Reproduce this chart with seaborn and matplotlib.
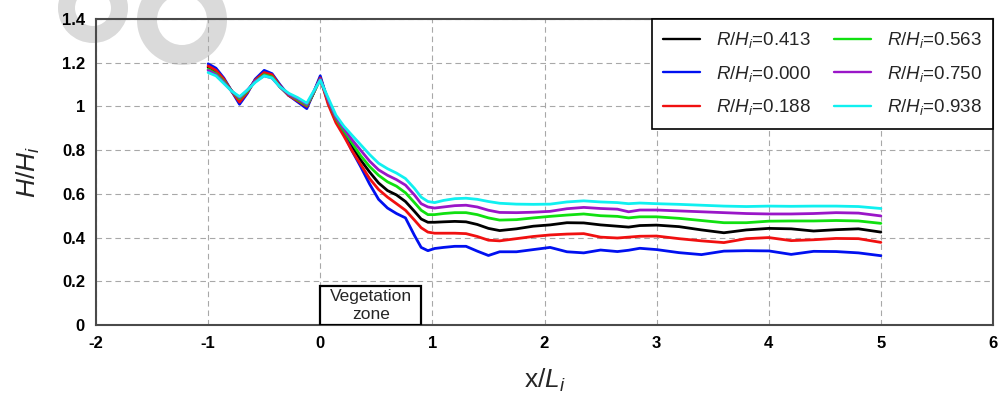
import numpy as np
import pandas as pd
import matplotlib
matplotlib.use("Agg")
import matplotlib.pyplot as plt
from matplotlib.patches import Rectangle, Wedge
import seaborn as sns

# Shared streamwise positions x/L_i
x_pos = [-1.0, -0.93, -0.86, -0.79, -0.72, -0.65, -0.58, -0.5, -0.43, -0.36, -0.28, -0.2, -0.12, -0.07, 0.0,
         0.07, 0.14, 0.21, 0.28, 0.36, 0.44, 0.52, 0.6, 0.68, 0.76, 0.84, 0.9, 0.96, 1.02,
         1.1, 1.2, 1.3, 1.4, 1.5, 1.6, 1.75, 1.9, 2.05, 2.2, 2.35, 2.5, 2.65, 2.75, 2.85, 3.0,
         3.2, 3.4, 3.6, 3.8, 4.0, 4.2, 4.4, 4.6, 4.8, 5.0]

# Relative wave height H/H_i for each R/H_i
h_0413 = [1.18, 1.16, 1.12, 1.07, 1.03, 1.07, 1.12, 1.15, 1.14, 1.09, 1.05, 1.03, 1.00, 1.05, 1.13,
          1.02, 0.935, 0.88, 0.82, 0.755, 0.70, 0.65, 0.615, 0.595, 0.565, 0.52, 0.485, 0.47, 0.47,
          0.472, 0.474, 0.472, 0.46, 0.442, 0.432, 0.44, 0.452, 0.458, 0.468, 0.467, 0.458, 0.452, 0.448, 0.455, 0.457,
          0.45, 0.435, 0.422, 0.435, 0.442, 0.44, 0.43, 0.436, 0.44, 0.425]
h_0000 = [1.195, 1.175, 1.13, 1.07, 1.01, 1.06, 1.125, 1.165, 1.15, 1.10, 1.05, 1.02, 0.99, 1.05, 1.14,
          1.02, 0.935, 0.875, 0.80, 0.725, 0.645, 0.575, 0.535, 0.51, 0.49, 0.41, 0.355, 0.34, 0.35,
          0.355, 0.36, 0.36, 0.338, 0.318, 0.335, 0.335, 0.345, 0.355, 0.335, 0.33, 0.343, 0.336, 0.342, 0.351, 0.345,
          0.331, 0.322, 0.338, 0.34, 0.339, 0.323, 0.337, 0.336, 0.33, 0.317]
h_0188 = [1.185, 1.165, 1.125, 1.07, 1.02, 1.065, 1.12, 1.155, 1.145, 1.095, 1.05, 1.025, 1.00, 1.05, 1.13,
          1.01, 0.925, 0.865, 0.80, 0.735, 0.67, 0.62, 0.585, 0.555, 0.525, 0.48, 0.445, 0.425, 0.42,
          0.42, 0.42, 0.418, 0.405, 0.388, 0.385, 0.395, 0.405, 0.412, 0.416, 0.418, 0.402, 0.398, 0.402, 0.406, 0.407,
          0.395, 0.385, 0.377, 0.395, 0.40, 0.386, 0.39, 0.396, 0.395, 0.378]
h_0563 = [1.17, 1.15, 1.115, 1.07, 1.035, 1.07, 1.115, 1.145, 1.135, 1.09, 1.055, 1.03, 1.005, 1.05, 1.125,
          1.03, 0.945, 0.89, 0.835, 0.775, 0.725, 0.685, 0.655, 0.635, 0.605, 0.56, 0.525, 0.505, 0.505,
          0.51, 0.514, 0.514, 0.505, 0.49, 0.48, 0.482, 0.49, 0.497, 0.503, 0.508, 0.50, 0.497, 0.49, 0.495, 0.495,
          0.488, 0.478, 0.468, 0.468, 0.475, 0.476, 0.476, 0.478, 0.476, 0.465]
h_0750 = [1.165, 1.145, 1.11, 1.07, 1.04, 1.075, 1.115, 1.14, 1.13, 1.09, 1.055, 1.035, 1.01, 1.055, 1.125,
          1.03, 0.95, 0.90, 0.85, 0.80, 0.75, 0.71, 0.685, 0.665, 0.64, 0.595, 0.555, 0.54, 0.535,
          0.54, 0.546, 0.548, 0.54, 0.525, 0.515, 0.514, 0.516, 0.52, 0.532, 0.538, 0.533, 0.53, 0.518, 0.526, 0.526,
          0.522, 0.518, 0.514, 0.51, 0.508, 0.508, 0.51, 0.514, 0.512, 0.499]
h_0938 = [1.155, 1.14, 1.105, 1.07, 1.045, 1.075, 1.11, 1.14, 1.13, 1.09, 1.06, 1.04, 1.015, 1.06, 1.12,
          1.04, 0.96, 0.91, 0.87, 0.825, 0.78, 0.74, 0.715, 0.695, 0.67, 0.625, 0.585, 0.565, 0.56,
          0.57, 0.578, 0.58, 0.575, 0.565, 0.557, 0.553, 0.552, 0.553, 0.563, 0.568, 0.563, 0.56, 0.555, 0.558, 0.555,
          0.552, 0.548, 0.544, 0.542, 0.544, 0.543, 0.544, 0.544, 0.542, 0.533]

ratios = ["0.413", "0.000", "0.188", "0.563", "0.750", "0.938"]
series = [h_0413, h_0000, h_0188, h_0563, h_0750, h_0938]
colors = ["#000000", "#0010f0", "#f01010", "#10e010", "#9a16c8", "#10f0f0"]

x_ticks = [-2, -1, 0, 1, 2, 3, 4, 5, 6]
y_ticks = [0, 0.2, 0.4, 0.6, 0.8, 1, 1.2, 1.4]
y_tick_labels = ["0", "0.2", "0.4", "0.6", "0.8", "1", "1.2", "1.4"]

labels = [f"$R/H_i$=" + r for r in ratios]
df = pd.concat(
    [pd.DataFrame({"x": x_pos, "H": h, "case": lab}) for h, lab in zip(series, labels)],
    ignore_index=True,
)

sns.set_theme(style="white")
plt.rcParams["font.family"] = ["Liberation Sans", "DejaVu Sans"]
plt.rcParams["mathtext.fontset"] = "custom"
plt.rcParams["mathtext.rm"] = "Liberation Sans"
plt.rcParams["mathtext.it"] = "Liberation Sans:italic"
plt.rcParams["mathtext.bf"] = "Liberation Sans:bold"

fig = plt.figure(figsize=(10.01, 4.0), dpi=100)
fig.patch.set_facecolor("white")
ax = fig.add_axes([96 / 1001, 75 / 400, 897 / 1001, 306 / 400])
ax.set_facecolor("none")

# light grey ring logo in the upper-left corner
for cx, cy, r, w in [(0.93, 3.92, 0.35, 0.17), (1.82, 3.80, 0.45, 0.20)]:
    fig.add_artist(Wedge((cx, cy), r, 0, 360, width=w, transform=fig.dpi_scale_trans,
                         facecolor="#dadada", edgecolor="none", zorder=-5))

sns.lineplot(data=df, x="x", y="H", hue="case", hue_order=labels,
             palette=dict(zip(labels, colors)), estimator=None, sort=False,
             linewidth=2.0, ax=ax, zorder=3)

ax.set_xlim(-2, 6)
ax.set_ylim(0, 1.4)
ax.set_xticks(x_ticks)
ax.set_xticklabels([str(t) for t in x_ticks], fontweight="bold", fontsize=12)
ax.set_yticks(y_ticks)
ax.set_yticklabels(y_tick_labels, fontweight="bold", fontsize=12)
ax.tick_params(axis="both", length=0, pad=8, colors="black")

ax.grid(True, color="#a8a8a8", linestyle=(0, (5, 3.5)), linewidth=0.8)
ax.set_axisbelow(True)
for s in ax.spines.values():
    s.set_visible(True)
    s.set_color("#4a4a4a")
    s.set_linewidth(1.5)

ax.set_xlabel("x/$L_i$", fontsize=19, labelpad=11)
ax.set_ylabel("$H/H_i$", fontsize=19, labelpad=14)

# vegetation zone marker
ax.add_patch(Rectangle((0.0, 0.0), 0.9, 0.178, facecolor="white", edgecolor="black",
                       linewidth=1.6, zorder=4))
ax.text(0.45, 0.089, "Vegetation\nzone", ha="center", va="center", fontsize=12.5,
        linespacing=1.2, zorder=5)

leg = ax.legend(ncol=2, loc="upper right", bbox_to_anchor=(1.0, 1.0), borderaxespad=0,
                prop={"size": 13.5}, frameon=True, fancybox=False, handlelength=1.97,
                columnspacing=1.25, labelspacing=0.72, handletextpad=0.85, borderpad=0.6)
leg.get_frame().set_edgecolor("black")
leg.get_frame().set_linewidth(1.2)
leg.get_frame().set_alpha(1)
for line in leg.get_lines():
    line.set_linewidth(1.7)

fig.savefig("out.png", dpi=100)
